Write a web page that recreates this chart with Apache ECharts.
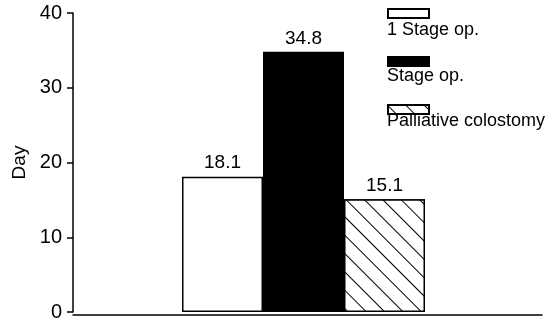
<!DOCTYPE html>
<html>
<head>
<meta charset="utf-8">
<script src="https://cdn.jsdelivr.net/npm/echarts@6/dist/echarts.min.js"></script>
<style>html,body{margin:0;padding:0;background:#fff}#c{width:553px;height:322px}</style>
</head>
<body>
<div id="c"></div>
<script>
var categories = [''];
var seriesNames = ['1 Stage op.', 'Stage op.', 'Palliative colostomy'];
var oneStageValues = [18.1];
var stageValues = [34.8];
var palliativeValues = [15.1];
var yTicks = [0, 10, 20, 30, 40];

var FONT = '"Liberation Sans", Arial, Helvetica, sans-serif';
var chart = echarts.init(document.getElementById('c'), null, {renderer: 'canvas'});

var labelCfg = {show: true, position: 'top', distance: 4, color: '#000', fontSize: 19, fontFamily: FONT,
  formatter: function (p) { return p.value.toFixed(1); }};

chart.setOption({
  animation: false,
  backgroundColor: '#fff',
  grid: [
    {left: 73, right: 19, top: 13, bottom: 7, containLabel: false},
    {left: 73, right: 11, top: 13, bottom: 7, containLabel: false}
  ],
  legend: {
    orient: 'vertical', left: 387, top: 8, padding: 0, itemWidth: 41, itemHeight: 9, itemGap: 37,
    icon: 'rect', selectedMode: false,
    formatter: function () { return ''; },
    textStyle: {fontSize: 1},
    data: seriesNames
  },
  graphic: [
    {type: 'text', left: 387, top: 21, style: {text: seriesNames[0], font: '18px ' + FONT, fill: '#000'}},
    {type: 'text', left: 387, top: 67, style: {text: seriesNames[1], font: '18px ' + FONT, fill: '#000'}},
    {type: 'text', left: 387, top: 112, style: {text: seriesNames[2], font: '18px ' + FONT, fill: '#000'}}
  ],
  xAxis: [
    {
      type: 'category', data: categories, gridIndex: 0,
      axisLine: {show: false}, axisTick: {show: false}, axisLabel: {show: false}, splitLine: {show: false}
    },
    {
      type: 'category', data: categories, gridIndex: 1,
      axisLine: {show: true, lineStyle: {color: '#000', width: 1.5}},
      axisTick: {show: false}, axisLabel: {show: false}, splitLine: {show: false}
    }
  ],
  yAxis: [
    {
      type: 'value', gridIndex: 0, min: yTicks[0], max: yTicks[yTicks.length - 1], interval: 10,
      name: 'Day', nameLocation: 'middle', nameGap: 44, nameRotate: 90,
      nameTextStyle: {color: '#000', fontSize: 19, fontFamily: FONT},
      axisLine: {show: true, lineStyle: {color: '#000', width: 1.5}},
      axisTick: {show: true, length: 6, lineStyle: {color: '#000', width: 1.5}},
      axisLabel: {color: '#000', fontSize: 20, fontFamily: FONT, margin: 11},
      splitLine: {show: false}
    },
    {
      type: 'value', gridIndex: 1, min: yTicks[0], max: yTicks[yTicks.length - 1], interval: 10,
      axisLine: {show: false}, axisTick: {show: false}, axisLabel: {show: false}, splitLine: {show: false}
    }
  ],
  series: [
    {name: seriesNames[0], type: 'bar', data: oneStageValues, barWidth: 81, barGap: '0%',
      itemStyle: {color: '#fff', borderColor: '#000', borderWidth: 1.5}, label: labelCfg},
    {name: seriesNames[1], type: 'bar', data: stageValues, barWidth: 81, barGap: '0%',
      itemStyle: {color: '#000', borderColor: '#000', borderWidth: 1.5}, label: labelCfg},
    {name: seriesNames[2], type: 'bar', data: palliativeValues, barWidth: 81, barGap: '0%',
      itemStyle: {color: '#fff', borderColor: '#000', borderWidth: 1.5,
        decal: {symbol: 'rect', symbolSize: 1, color: '#000', backgroundColor: '#fff',
          dashArrayX: [1, 0], dashArrayY: [1, 12], rotation: Math.PI / 4}},
      label: labelCfg}
  ]
});
</script>
</body>
</html>
